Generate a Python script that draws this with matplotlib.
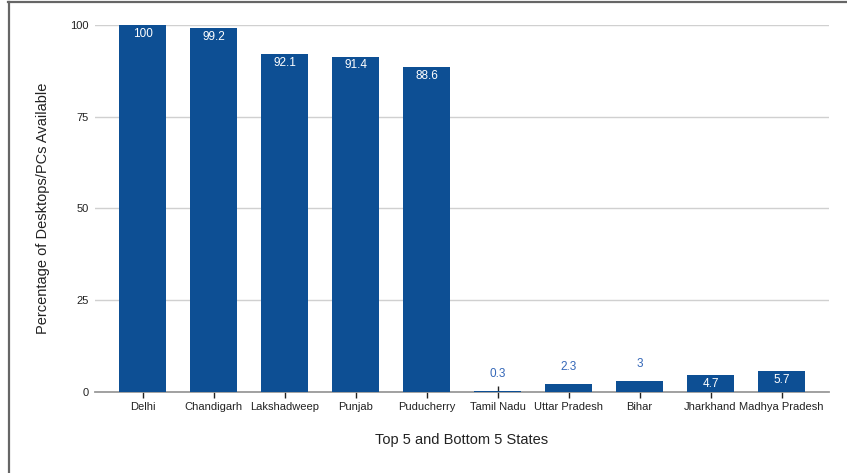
import numpy as np
import matplotlib.pyplot as plt
from matplotlib.lines import Line2D

plt.rcParams['font.family'] = ['Liberation Sans', 'DejaVu Sans']

states = ["Delhi", "Chandigarh", "Lakshadweep", "Punjab", "Puducherry",
          "Tamil Nadu", "Uttar Pradesh", "Bihar", "Jharkhand", "Madhya Pradesh"]
pct = [100, 99.2, 92.1, 91.4, 88.6, 0.3, 2.3, 3, 4.7, 5.7]
yticks = [0, 25, 50, 75, 100]

bar_color = "#0d4f94"
W, H = 847, 473

fig = plt.figure(figsize=(W / 100, H / 100), dpi=100)
ax = fig.add_axes([95 / W, (H - 392) / H, (829 - 95) / W, (392 - 25) / H])

xpos = np.arange(len(states))
bars = ax.bar(xpos, pct, width=0.65, color=bar_color, zorder=3)

# value labels: inside the bar when it is tall enough, above it otherwise
for x, v in zip(xpos, pct):
    txt = f"{v:g}"
    if v >= 4:
        ax.annotate(txt, (x, v), xytext=(0, -6.3), textcoords="offset points",
                    ha="center", va="center", color="white", fontsize=8.5, zorder=4)
    else:
        ax.annotate(txt, (x, v), xytext=(0, 12), textcoords="offset points",
                    ha="center", va="center", color="#3467b8", fontsize=8.5, zorder=4)

ax.set_xlim(-0.5 - 12 / 71, len(states) - 0.5 + 12 / 71)
ax.set_ylim(0, 100)
ax.set_yticks(yticks)
ax.set_xticks(xpos)
ax.set_xticklabels(states)

ax.tick_params(axis="y", length=0, pad=4.5, labelsize=8, labelcolor="#222222")
ax.tick_params(axis="x", direction="inout", length=8, width=1, color="#222222",
               pad=3.2, labelsize=8, labelcolor="#222222")

ax.grid(axis="y", color="#d0d0d0", linewidth=1, zorder=0)
ax.set_axisbelow(True)
for s in ["top", "right", "left"]:
    ax.spines[s].set_visible(False)
ax.spines["bottom"].set_color("#9a9a9a")
ax.spines["bottom"].set_linewidth(1.3)
ax.spines["bottom"].set_zorder(2.5)
for t in ax.xaxis.get_major_ticks():
    t.tick1line.set_zorder(5)

ax.set_xlabel("Top 5 and Bottom 5 States", fontsize=10.5, color="#222222")
ax.set_ylabel("Percentage of Desktops/PCs Available", fontsize=10.5, color="#222222")
ax.xaxis.set_label_coords(0.5, (392 - 440) / 367)
ax.xaxis.label.set_va("center")
ax.yaxis.set_label_coords((43 - 95) / 734, 0.5)
ax.yaxis.label.set_va("center")

# frame around the figure (left and top edges)
fig.add_artist(Line2D([8.5 / W, 8.5 / W], [0, 1 - 2.5 / H], transform=fig.transFigure,
                      color="#666666", linewidth=1.6))
fig.add_artist(Line2D([7.7 / W, 1], [1 - 2.5 / H, 1 - 2.5 / H], transform=fig.transFigure,
                      color="#666666", linewidth=1.6))

fig.savefig("out.png", dpi=100)
